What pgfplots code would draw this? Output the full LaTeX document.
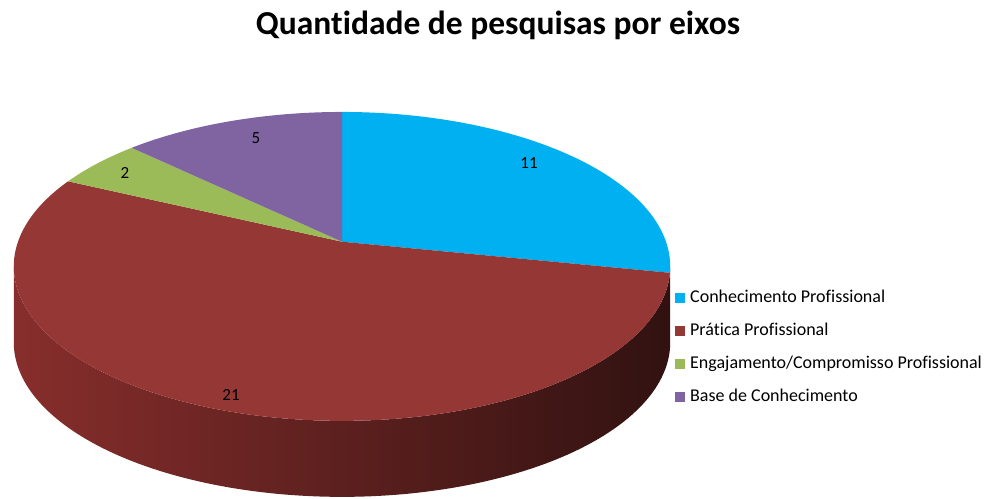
\documentclass[border=0pt]{standalone}
\usepackage{fontspec}
\setmainfont{Carlito}[Ligatures=NoCommon]
\usepackage{pgfplots}
\usepackage{pgfplotstable}
\pgfplotsset{compat=1.18}
\definecolor{cblue}{HTML}{00B0F0}
\definecolor{cred}{HTML}{953735}
\definecolor{cgreen}{HTML}{9BBB59}
\definecolor{cpurple}{HTML}{8064A2}
\definecolor{sideL}{HTML}{872E2C}
\definecolor{sideR}{HTML}{311211}

\pgfplotstableread{
idx value
0 11
1 21
2 2
3 5
}\piedata

\begin{document}
\begin{tikzpicture}
\pgfplotstablegetelem{0}{value}\of\piedata \pgfmathsetmacro\vA{\pgfplotsretval}
\pgfplotstablegetelem{1}{value}\of\piedata \pgfmathsetmacro\vB{\pgfplotsretval}
\pgfplotstablegetelem{2}{value}\of\piedata \pgfmathsetmacro\vC{\pgfplotsretval}
\pgfplotstablegetelem{3}{value}\of\piedata \pgfmathsetmacro\vD{\pgfplotsretval}
\pgfmathsetmacro\tot{\vA+\vB+\vC+\vD}
\pgfmathsetmacro\eA{90}
\pgfmathsetmacro\sA{\eA-360*\vA/\tot}
\pgfmathsetmacro\sB{\sA-360*\vB/\tot}
\pgfmathsetmacro\sC{\sB-360*\vC/\tot}
\pgfmathsetmacro\sD{\sC-360*\vD/\tot}
\begin{axis}[
  x=1pt, y=1pt, xmin=0, xmax=992, ymin=0, ymax=498,
  scale only axis, hide axis, clip=false,
  declare function={
    px(\t)=342+324*cos(\t)/(1+0.16*sin(\t));
    py(\t)=256.3+150.5*sin(\t)/(1+0.16*sin(\t));
    sth(\s)=ifthenelse(\s<=1, 189.2+161.6*\s, 350.8-161.6*(\s-1));
    soff(\s)=ifthenelse(\s<=1, 0, 76);
  },
  legend style={at={(0.6774,0.4237)}, anchor=north west, draw=none, fill=none,
    font=\fontsize{18}{21}\selectfont, row sep=16pt,
    nodes={inner sep=0pt, text height=13pt, text depth=4pt},
    /tikz/every odd column/.append style={column sep=5pt}},
  legend cell align=left,
  legend image code/.code={\fill[#1, draw=none] (0pt,-5pt) rectangle (10pt,5pt);},
]
% side wall
\addplot[draw=none, left color=sideL, right color=sideR, domain=0:2, samples=401, variable=\s, forget plot]
  ({px(sth(\s))},{py(sth(\s))-soff(\s)}) -- cycle;
% top slices
\addplot[fill=cblue, draw=none, domain=\sA:\eA, samples=100, variable=\t, forget plot]
  ({px(\t)},{py(\t)}) -- (axis cs:342,256.3) -- cycle;
\addplot[fill=cred, draw=none, domain=\sB:\sA, samples=160, variable=\t, forget plot]
  ({px(\t)},{py(\t)}) -- (axis cs:342,256.3) -- cycle;
\addplot[fill=cgreen, draw=none, domain=\sC:\sB, samples=30, variable=\t, forget plot]
  ({px(\t)},{py(\t)}) -- (axis cs:342,256.3) -- cycle;
\addplot[fill=cpurple, draw=none, domain=\sD:\sC, samples=60, variable=\t, forget plot]
  ({px(\t)},{py(\t)}) -- (axis cs:342,256.3) -- cycle;
% legend
\addlegendimage{fill=cblue}\addlegendentry{Conhecimento Profissional}
\addlegendimage{fill=cred}\addlegendentry{Prática Profissional}
\addlegendimage{fill=cgreen}\addlegendentry{Engajamento/Compromisso Profissional}
\addlegendimage{fill=cpurple}\addlegendentry{Base de Conhecimento}
% data labels
\node[font=\fontsize{17}{20}\selectfont] at (axis cs:529,334.5) {11};
\node[font=\fontsize{17}{20}\selectfont] at (axis cs:231,103.5) {21};
\node[font=\fontsize{17}{20}\selectfont] at (axis cs:125,325.5) {2};
\node[font=\fontsize{17}{20}\selectfont] at (axis cs:256,359.5) {5};
% title
\node[font=\fontsize{33.5}{40}\selectfont\bfseries] at (axis cs:498,473) {Quantidade de pesquisas por eixos};
\path (axis cs:0,0) rectangle (axis cs:992,498);
\end{axis}
\end{tikzpicture}
\end{document}
